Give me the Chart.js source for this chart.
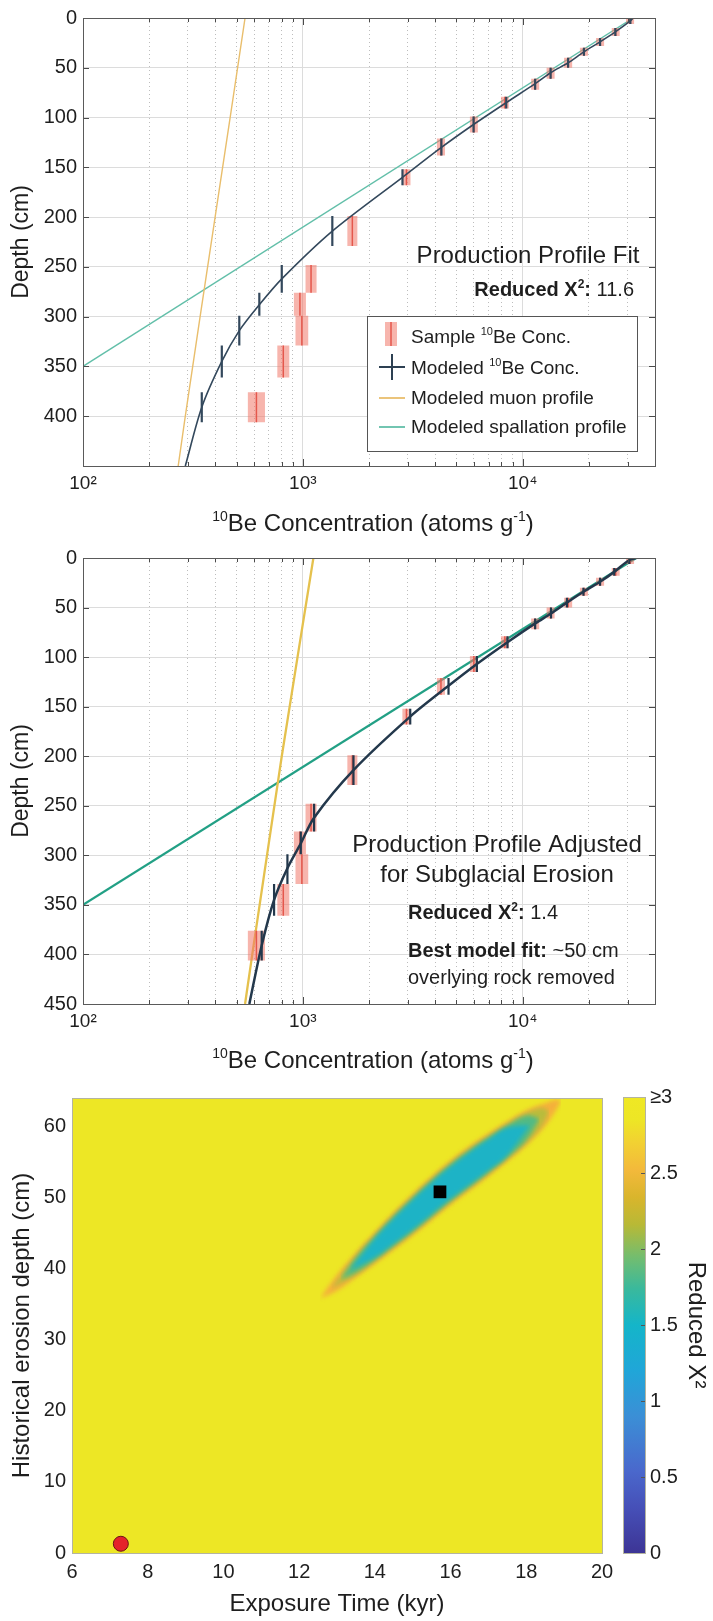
<!DOCTYPE html>
<html>
<head>
<meta charset="utf-8">
<script src="https://cdn.jsdelivr.net/npm/chart.js@4.4.1/dist/chart.umd.min.js"></script>
<style>
  html, body { margin: 0; padding: 0; background: #fff; }
  body { width: 713px; height: 1621px; position: relative; overflow: hidden; }
  canvas { position: absolute; }
</style>
</head>
<body>
<canvas id="profileFit" width="713" height="545" style="left:0;top:0"></canvas>
<canvas id="profileAdjusted" width="713" height="540" style="left:0;top:540px"></canvas>
<canvas id="misfitMap" width="713" height="541" style="left:0;top:1080px"></canvas>
<canvas id="colorBar" width="113" height="541" style="left:600px;top:1080px"></canvas>
<script>
// ---- samples (depth interval in cm, 10Be in atoms/g) ----
const sampleTop    = [0, 10, 20, 30, 40, 50, 61, 79, 99, 121, 152, 199, 248, 276, 299, 329, 376];
const sampleBottom = [6, 18, 28, 38, 50, 61, 72, 91, 115, 138, 168, 229, 276, 299, 329, 361, 406];
const sampleConc   = [30800, 26500, 22500, 19000, 16100, 13400, 11400, 8300, 6000, 4250, 2960, 1680, 1090, 970, 990, 815, 615];
const sampleErr    = [1300, 1100, 950, 800, 680, 560, 480, 340, 250, 180, 125, 88, 63, 61, 66, 51, 55];

// ---- top panel: production profile fit ----
const fitMarkConc  = [30900, 26400, 22500, 19000, 16100, 13400, 11400, 8420, 5980, 4270, 2840, 1362, 802, 634, 514, 428, 347];
const fitCurveDepth = [0, 3, 14, 24, 34, 45, 55, 66, 85, 107, 130, 160, 214, 262, 288, 314, 345, 391, 450];
const fitCurveConc  = [31800, 30900, 26400, 22500, 19000, 16100, 13400, 11400, 8420, 5980, 4270, 2840, 1362, 802, 634, 514, 428, 347, 292];
const muonDepth    = [0, 100, 200, 300, 400, 450];
const fitMuonConc  = [546, 467, 399, 341, 292, 271];
const spallDepth   = [0, 350];
const fitSpallConc = [31800, 100];

// ---- middle panel: adjusted for subglacial erosion ----
const adjMarkConc  = [30550, 26100, 22500, 18900, 15900, 13460, 11400, 8530, 6190, 4600, 3080, 1700, 1125, 979, 851, 740, 650];
const adjCurveDepth = [0, 2, 14, 24, 34, 45, 56, 66, 85, 107, 129, 160, 214, 262, 288, 313, 345, 391, 450];
const adjCurveConc  = [32800, 30550, 26100, 22500, 18900, 15900, 13460, 11400, 8530, 6190, 4600, 3080, 1700, 1125, 979, 851, 740, 650, 571];
const adjMuonConc  = [1117, 946, 802, 687, 589, 546];
const adjSpallConc = [32800, 100];

// ---- axis ticks ----
const concGrid = [100, 200, 300, 400, 500, 600, 700, 800, 900,
                  1000, 2000, 3000, 4000, 5000, 6000, 7000, 8000, 9000,
                  10000, 20000, 30000, 40000];
const decadeTicks  = [100, 1000, 10000];
const decadeLabels = ['10²', '10³', '10⁴'];

// ---- bottom panel: reduced chi-square misfit valley (band outlines) ----
const band1X   = [12.55, 13, 13.5, 14, 14.5, 15, 15.5, 16, 16.5, 17, 17.5, 18, 18.5, 18.8, 18.92];
const band1Up  = [35.8, 39.1, 42.2, 45.1, 47.9, 50.5, 52.95, 55.2, 57.2, 59.0, 60.7, 62.25, 63.3, 63.8, 63.6];
const band1Low = [35.8, 36.9, 38.8, 40.7, 42.7, 44.7, 46.85, 49.0, 51.0, 53.0, 55.1, 57.35, 60.1, 62.4, 63.6];
const band2X   = [12.85, 13.5, 14, 14.5, 15, 15.5, 16, 16.5, 17, 17.5, 18, 18.4, 18.6];
const band2Up  = [37.2, 41.85, 44.75, 47.55, 50.15, 52.6, 54.85, 56.85, 58.65, 60.35, 61.85, 62.6, 62.1];
const band2Low = [37.2, 39.15, 41.05, 43.05, 45.05, 47.2, 49.35, 51.35, 53.35, 55.45, 57.75, 60.0, 62.1];
const band3X   = [13.1, 13.5, 14, 14.5, 15, 15.5, 16, 16.5, 17, 17.5, 18, 18.35];
const band3Up  = [38.5, 41.5, 44.5, 47.3, 49.9, 52.35, 54.6, 56.6, 58.4, 60.1, 61.5, 61.1];
const band3Low = [38.5, 39.5, 41.3, 43.3, 45.3, 47.45, 49.6, 51.6, 53.6, 55.7, 58.1, 61.1];
const band4X   = [13.35, 14, 14.5, 15, 15.5, 16, 16.5, 17, 17.5, 18.1];
const band4Up  = [39.8, 44.2, 47.05, 49.65, 52.1, 54.35, 56.35, 58.15, 59.8, 60.2];
const band4Low = [39.8, 41.6, 43.55, 45.55, 47.7, 49.85, 51.85, 53.85, 56.0, 60.2];
const bestFit  = { x: 15.72, y: 50.8 };
const noErosion = { x: 7.29, y: 1.3 };

// ---- colour bar ----
const colorbarTicks = [0, 0.5, 1, 1.5, 2, 2.5, 3];
const parulaPos = [0, 0.1, 0.18, 0.3, 0.4, 0.5, 0.58, 0.65, 0.72, 0.78, 0.84, 0.9, 0.95, 1];
const parulaCol = ['#3d3595', '#4650b8', '#4a68cc', '#3b8fd6', '#20a6d8', '#14b5c9', '#3ab99c',
                   '#74bd6e', '#b8b936', '#d9b52c', '#f3b93b', '#f2d132', '#ede625', '#efe824'];

const FAMILY = '"Liberation Sans", Arial, Helvetica, sans-serif';
Chart.defaults.font.family = FAMILY;
Chart.defaults.color = '#1e1e1e';

const xy = (xs, ys) => xs.map((x, i) => ({ x: x, y: ys[i] }));

function drawRich(ctx, parts, x, y, size, align) {
  const fontOf = p => (p.b ? 'bold ' : '') + (p.sup ? Math.round(size * 0.6) : size) + 'px ' + FAMILY;
  let total = 0;
  const w = parts.map(p => { ctx.font = fontOf(p); const m = ctx.measureText(p.t).width; total += m; return m; });
  let cx = align === 'center' ? x - total / 2 : align === 'right' ? x - total : x;
  ctx.textAlign = 'left';
  ctx.textBaseline = 'alphabetic';
  parts.forEach((p, i) => {
    ctx.font = fontOf(p);
    ctx.fillText(p.t, cx, p.sup ? y - size * 0.4 : y);
    cx += w[i];
  });
}

function sampleWidth(chart, c, e) {
  const s = chart.scales.x;
  if (!s || !s.width) return 9;
  return Math.max(3, s.getPixelForValue(c + e) - s.getPixelForValue(c - e));
}

function profileDatasets(markConc, curveDepth, curveConc, muonConc, spallConc, st) {
  const sets = [];
  sets.push({ data: xy(muonConc, muonDepth), borderColor: st.muon, borderWidth: st.lw, order: 4 });
  sets.push({ data: xy(spallConc, spallDepth), borderColor: st.spall, borderWidth: st.lw, order: 4 });
  sampleConc.forEach((c, i) => {
    const seg = [{ x: c, y: sampleTop[i] }, { x: c, y: sampleBottom[i] }];
    sets.push({ data: seg, borderColor: 'rgba(240,120,105,0.55)', borderCapStyle: 'butt',
                borderWidth: ctx => sampleWidth(ctx.chart, c, sampleErr[i]), order: 3 });
    sets.push({ data: seg, borderColor: '#e4574c', borderWidth: 1.5, borderCapStyle: 'butt', order: 2 });
  });
  markConc.forEach((c, i) => {
    sets.push({ data: [{ x: c, y: sampleTop[i] }, { x: c, y: sampleBottom[i] }],
                borderColor: st.navy, borderWidth: 2.2, borderCapStyle: 'butt', order: 0 });
  });
  sets.push({ data: xy(curveConc, curveDepth), borderColor: st.navy, borderWidth: st.curveW, tension: 0.3, order: 1 });
  return sets;
}

function profileDecor(opts) {
  return {
    id: 'profileDecor',
    afterDraw(chart) {
      const { ctx, chartArea: a, scales } = chart;
      ctx.save();
      ctx.strokeStyle = '#4a4a4a';
      ctx.lineWidth = 1;
      ctx.beginPath();
      scales.x.ticks.forEach(t => {
        const px = Math.round(scales.x.getPixelForValue(t.value)) + 0.5;
        const len = decadeTicks.includes(t.value) ? 7 : 4;
        ctx.moveTo(px, a.top); ctx.lineTo(px, a.top + len);
        ctx.moveTo(px, a.bottom); ctx.lineTo(px, a.bottom - len);
      });
      scales.y.ticks.forEach(t => {
        const py = Math.round(scales.y.getPixelForValue(t.value)) + 0.5;
        ctx.moveTo(a.left, py); ctx.lineTo(a.left + 6, py);
        ctx.moveTo(a.right, py); ctx.lineTo(a.right - 6, py);
      });
      ctx.stroke();
      ctx.strokeStyle = '#5a5a5a';
      ctx.strokeRect(Math.round(a.left) + 0.5, Math.round(a.top) + 0.5,
                     Math.round(a.right - a.left), Math.round(a.bottom - a.top));
      ctx.translate(0, -opts.pageTop);
      ctx.fillStyle = '#1e1e1e';
      drawRich(ctx, [{ t: '10', sup: 1 }, { t: 'Be Concentration (atoms g' }, { t: '-1', sup: 1 }, { t: ')' }],
               373, opts.xTitleBase, 24, 'center');
      opts.notes(ctx);
      ctx.restore();
    }
  };
}

function profileChart(id, datasets, opts) {
  return new Chart(document.getElementById(id), {
    type: 'line',
    data: { datasets: datasets },
    options: {
      responsive: false,
      animation: false,
      devicePixelRatio: 1,
      layout: { padding: { top: opts.top, right: 58, left: 0, bottom: 0 } },
      elements: { point: { radius: 0 } },
      plugins: { legend: { display: false }, tooltip: { enabled: false } },
      scales: {
        x: {
          type: 'logarithmic', min: 100, max: 40000,
          afterBuildTicks: s => { s.ticks = concGrid.map(v => ({ value: v })); },
          afterFit: s => { s.height = opts.xAxisH; },
          ticks: {
            autoSkip: false, maxRotation: 0, padding: 6, font: { size: 19 },
            callback: v => { const k = decadeTicks.indexOf(v); return k >= 0 ? decadeLabels[k] : ''; }
          },
          grid: {
            drawTicks: false,
            color: c => (c.tick && decadeTicks.includes(c.tick.value)) ? '#dcdcdc' : '#bdbdbd'
          },
          border: {
            display: false,
            dash: c => (c.tick && !decadeTicks.includes(c.tick.value)) ? [1, 3] : []
          }
        },
        y: {
          type: 'linear', reverse: true, min: 0, max: 450,
          afterFit: s => { s.width = 83; },
          ticks: { stepSize: 50, padding: 6, font: { size: 20 },
                   callback: v => (opts.hide450 && v === 450) ? '' : v },
          grid: { drawTicks: false, color: '#dcdcdc' },
          border: { display: false },
          title: { display: true, text: 'Depth (cm)', font: { size: 23 }, padding: { top: 8 } }
        }
      }
    },
    plugins: [profileDecor(opts)]
  });
}

// ---- top panel ----
profileChart('profileFit',
  profileDatasets(fitMarkConc, fitCurveDepth, fitCurveConc, fitMuonConc, fitSpallConc,
    { muon: '#e9be6c', spall: '#62bfa9', navy: '#33485c', lw: 1.4, curveW: 1.6 }),
  {
    top: 14, xAxisH: 79, hide450: true, pageTop: 0, xTitleBase: 531,
    notes(ctx) {
      drawRich(ctx, [{ t: 'Production Profile Fit' }], 528, 263, 24, 'center');
      drawRich(ctx, [{ t: 'Reduced X', b: 1 }, { t: '2', b: 1, sup: 1 }, { t: ':', b: 1 }, { t: ' 11.6' }], 634, 296, 20, 'right');
      // legend box
      ctx.fillStyle = '#fff';
      ctx.fillRect(367, 316, 270, 135);
      ctx.strokeStyle = '#555';
      ctx.lineWidth = 1;
      ctx.strokeRect(367.5, 316.5, 270, 135);
      ctx.fillStyle = 'rgba(240,120,105,0.55)';
      ctx.fillRect(385, 322, 12, 24);
      ctx.strokeStyle = '#e4574c';
      ctx.lineWidth = 1.5;
      ctx.beginPath(); ctx.moveTo(391, 322); ctx.lineTo(391, 346); ctx.stroke();
      ctx.strokeStyle = '#2d4052';
      ctx.lineWidth = 2;
      ctx.beginPath(); ctx.moveTo(379, 367); ctx.lineTo(405, 367); ctx.moveTo(392, 354); ctx.lineTo(392, 380); ctx.stroke();
      ctx.strokeStyle = '#e9be6c';
      ctx.lineWidth = 1.8;
      ctx.beginPath(); ctx.moveTo(379, 398); ctx.lineTo(405, 398); ctx.stroke();
      ctx.strokeStyle = '#62bfa9';
      ctx.beginPath(); ctx.moveTo(379, 427); ctx.lineTo(405, 427); ctx.stroke();
      ctx.fillStyle = '#1e1e1e';
      drawRich(ctx, [{ t: 'Sample ' }, { t: '10', sup: 1 }, { t: 'Be Conc.' }], 411, 343, 19, 'left');
      drawRich(ctx, [{ t: 'Modeled ' }, { t: '10', sup: 1 }, { t: 'Be Conc.' }], 411, 374, 19, 'left');
      drawRich(ctx, [{ t: 'Modeled muon profile' }], 411, 404, 19, 'left');
      drawRich(ctx, [{ t: 'Modeled spallation profile' }], 411, 433, 19, 'left');
    }
  });

// ---- middle panel ----
profileChart('profileAdjusted',
  profileDatasets(adjMarkConc, adjCurveDepth, adjCurveConc, adjMuonConc, adjSpallConc,
    { muon: '#e5c14d', spall: '#22a085', navy: '#23384c', lw: 2.3, curveW: 2.5 }),
  {
    top: 13, xAxisH: 76, hide450: false, pageTop: 540, xTitleBase: 1068,
    notes(ctx) {
      drawRich(ctx, [{ t: 'Production Profile Adjusted' }], 497, 852, 24, 'center');
      drawRich(ctx, [{ t: 'for Subglacial Erosion' }], 497, 882, 24, 'center');
      drawRich(ctx, [{ t: 'Reduced X', b: 1 }, { t: '2', b: 1, sup: 1 }, { t: ':', b: 1 }, { t: ' 1.4' }], 408, 919, 20, 'left');
      drawRich(ctx, [{ t: 'Best model fit:', b: 1 }, { t: ' ~50 cm' }], 408, 957, 20, 'left');
      drawRich(ctx, [{ t: 'overlying rock removed' }], 408, 984, 20, 'left');
    }
  });

// ---- bottom panel: misfit map ----
const bandStyles = ['#f4b03b', '#b9bc3c', '#52ba84', '#1db3c6'];
const bandData = [[band1X, band1Up, band1Low], [band2X, band2Up, band2Low],
                  [band3X, band3Up, band3Low], [band4X, band4Up, band4Low]];
const mapSets = [];
bandData.forEach((b, i) => {
  const order = bandData.length - i + 1;
  mapSets.push({ data: xy(b[0], b[1]), fill: '+1', backgroundColor: bandStyles[i], borderColor: 'rgba(0,0,0,0)',
                 borderWidth: 0, pointRadius: 0, tension: 0.4, order: order });
  mapSets.push({ data: xy(b[0], b[2]), fill: false, borderColor: 'rgba(0,0,0,0)',
                 borderWidth: 0, pointRadius: 0, tension: 0.4, order: order });
});
const bandCount = mapSets.length;
mapSets.push({ data: [bestFit], showLine: false, pointStyle: 'rect', pointRadius: 9,
               backgroundColor: '#000', borderWidth: 0, order: 0 });
mapSets.push({ data: [noErosion], showLine: false, pointStyle: 'circle', pointRadius: 7.5,
               backgroundColor: '#e5232a', borderColor: '#6a1515', borderWidth: 1, order: 0 });

const mapBackground = {
  id: 'mapBackground',
  beforeDatasetsDraw(chart) {
    const { ctx, chartArea: a } = chart;
    ctx.save();
    ctx.fillStyle = '#ede725';
    ctx.fillRect(a.left, a.top, a.right - a.left, a.bottom - a.top);
    ctx.restore();
    ctx.save();
    ctx.filter = 'blur(2px)';
  },
  beforeDatasetDraw(chart, args) {
    chart.ctx.filter = args.index < bandCount ? 'blur(2px)' : 'none';
  },
  afterDatasetsDraw(chart) {
    const { ctx, chartArea: a } = chart;
    ctx.restore();
    ctx.save();
    ctx.strokeStyle = '#b4b4a0';
    ctx.lineWidth = 1;
    ctx.strokeRect(Math.round(a.left) + 0.5, Math.round(a.top) + 0.5,
                   Math.round(a.right - a.left), Math.round(a.bottom - a.top));
    ctx.restore();
  }
};

new Chart(document.getElementById('misfitMap'), {
  type: 'line',
  data: { datasets: mapSets },
  options: {
    responsive: false,
    animation: false,
    devicePixelRatio: 1,
    layout: { padding: { top: 12, right: 111, left: 0, bottom: 0 } },
    plugins: { legend: { display: false }, tooltip: { enabled: false } },
    scales: {
      x: {
        type: 'linear', min: 6, max: 20,
        afterFit: s => { s.height = 68; },
        ticks: { stepSize: 2, padding: 7, font: { size: 20 } },
        grid: { display: false, drawTicks: false },
        border: { display: false },
        title: { display: true, text: 'Exposure Time (kyr)', font: { size: 24 }, padding: { top: 0, bottom: 2 } }
      },
      y: {
        type: 'linear', min: 0, max: 64,
        afterBuildTicks: s => { s.ticks = s.ticks.filter(t => t.value % 10 === 0); },
        afterFit: s => { s.width = 72; },
        ticks: { stepSize: 10, padding: 6, font: { size: 20 } },
        grid: { display: false, drawTicks: false },
        border: { display: false },
        title: { display: true, text: 'Historical erosion depth (cm)', font: { size: 24 }, padding: { top: 8 } }
      }
    }
  },
  plugins: [mapBackground]
});

// ---- colour bar ----
const barFrame = {
  id: 'barFrame',
  afterDraw(chart) {
    const { ctx, chartArea: a, scales } = chart;
    ctx.save();
    ctx.strokeStyle = '#555';
    ctx.lineWidth = 1;
    ctx.beginPath();
    scales.y.ticks.forEach(t => {
      const py = Math.round(scales.y.getPixelForValue(t.value)) + 0.5;
      ctx.moveTo(a.right, py); ctx.lineTo(a.right - 4, py);
    });
    ctx.stroke();
    ctx.strokeStyle = '#b4b4a0';
    ctx.strokeRect(Math.round(a.left) + 0.5, Math.round(a.top) + 0.5,
                   Math.round(a.right - a.left), Math.round(a.bottom - a.top));
    ctx.restore();
  }
};

new Chart(document.getElementById('colorBar'), {
  type: 'bar',
  data: {
    labels: [''],
    datasets: [{
      data: [colorbarTicks[colorbarTicks.length - 1]],
      barPercentage: 1, categoryPercentage: 1, borderWidth: 0,
      backgroundColor: c => {
        const a = c.chart.chartArea;
        if (!a) return parulaCol[0];
        const g = c.chart.ctx.createLinearGradient(0, a.bottom, 0, a.top);
        parulaPos.forEach((p, i) => g.addColorStop(p, parulaCol[i]));
        return g;
      }
    }]
  },
  options: {
    responsive: false,
    animation: false,
    devicePixelRatio: 1,
    layout: { padding: { top: 12, left: 23, right: 0, bottom: 68 } },
    plugins: { legend: { display: false }, tooltip: { enabled: false } },
    scales: {
      x: { display: false },
      y: {
        position: 'right', min: 0, max: 3,
        afterFit: s => { s.width = 68; },
        afterBuildTicks: s => { s.ticks = colorbarTicks.map(v => ({ value: v })); },
        ticks: { padding: 5, font: { size: 20 }, callback: v => v === 3 ? '≥3' : v },
        grid: { display: false, drawTicks: false },
        border: { display: false },
        title: { display: true, text: 'Reduced X²', font: { size: 24 }, padding: { top: 3 } }
      }
    }
  },
  plugins: [barFrame]
});
</script>
</body>
</html>
